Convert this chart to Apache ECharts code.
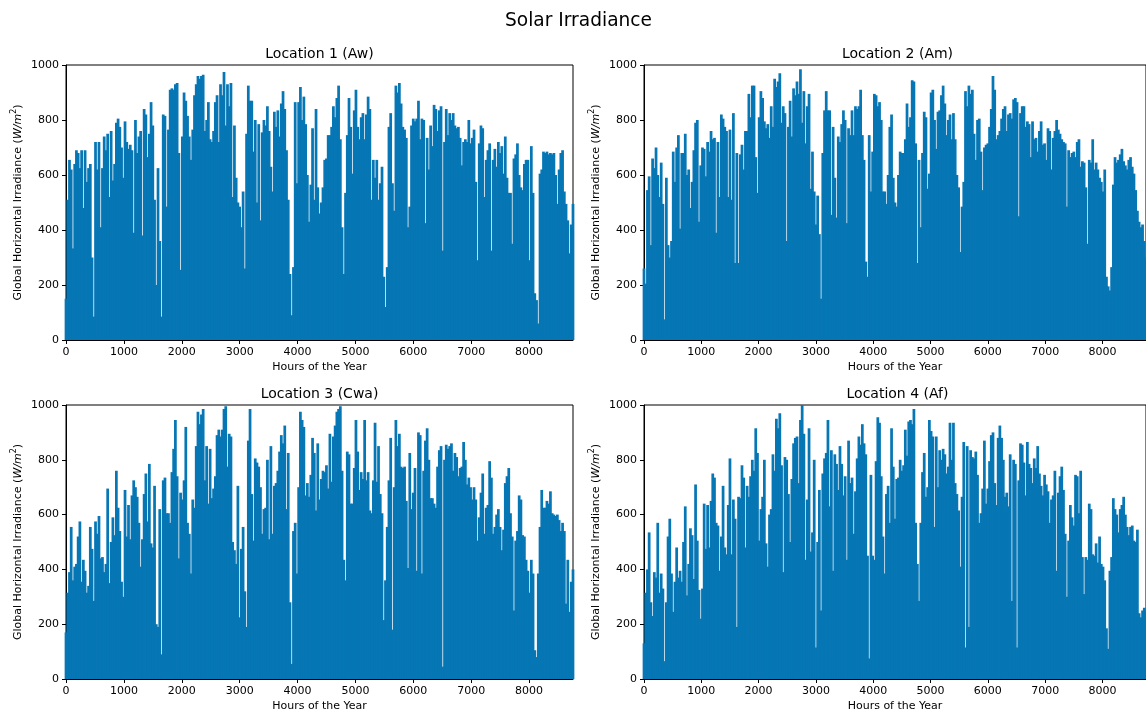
<!DOCTYPE html>
<html>
<head>
<meta charset="utf-8">
<title>Solar Irradiance</title>
<script src="https://cdn.jsdelivr.net/npm/echarts@6/dist/echarts.min.js"></script>
<style>
  html, body { margin: 0; padding: 0; background: #ffffff; }
  #chart { width: 1146px; height: 716px; }
</style>
</head>
<body>
<div id="chart"></div>
<script>
// Hours in the year and spacing of the sampled irradiance peaks (hours)
const HOURS = 8760;
const STEP = 30;

const locationNames = ['Location 1 (Aw)', 'Location 2 (Am)', 'Location 3 (Cwa)', 'Location 4 (Af)'];
const xTickStep = 1000;
const yTickStep = 200;
const yMax = 1000;

// Global horizontal irradiance peaks (W/m^2), one value every STEP hours (293 values each)
const loc1 = [
  150,510,655,620,333,640,690,680,625,690, 480,690,575,625,640,300,85,720,620,720,
  410,625,740,690,750,520,760,580,640,790, 805,775,700,590,795,720,695,710,690,390,
  800,680,740,760,380,840,820,665,750,865, 780,510,200,625,360,85,820,815,485,765,
  910,915,910,930,935,680,255,740,900,870, 815,740,655,765,890,930,960,950,960,965,
  760,800,865,730,720,760,865,890,720,930, 890,975,780,930,850,935,520,
  780,590,500,485,410,540,260,750,925,870, 870,685,800,500,785,435,755,800,780,850,
  760,630,540,830,775,835,740,860,905,840, 690,510,240,90,265,865,570,865,920,800,
  885,785,600,430,565,770,510,840,555,460, 500,555,655,660,745,745,775,850,810,880,
  925,730,410,240,535,745,880,775,605,835, 910,775,730,810,825,730,820,885,840,510,
  655,590,655,510,570,630,230,120,265,775, 825,570,470,925,900,935,860,775,
  765,735,410,485,780,805,795,805,870,730, 805,800,425,735,620,780,705,855,840,760,
  835,850,325,720,840,745,825,800,825,780, 770,775,735,635,720,730,720,800,715,735,
  765,575,290,715,780,770,520,655,690,715, 325,655,695,630,720,680,705,605,740,590,
  535,535,350,660,675,715,600,555,545,640, 655,655,290,705,535,170,145,60,605,620,
  685,680,685,675,680,675,680,600,495,620, 680,690,540,495,435,315,420,495
];

const loc2 = [
  260,205,545,595,345,660,625,700,600,520, 645,495,75,590,345,300,360,685,575,700,
  745,405,680,680,750,600,620,480,575,690, 790,800,430,635,700,695,595,720,685,760,
  730,735,390,720,520,820,805,775,760,520, 765,510,825,280,680,280,675,710,620,760,
  760,895,810,925,925,665,535,810,905,880, 795,770,785,735,850,775,950,920,940,970,
  790,850,825,360,775,870,740,915,890,940, 895,985,790,905,715,850,895,
  550,685,540,420,525,385,150,680,835,905, 835,835,455,775,590,445,740,720,785,835,
  800,425,770,745,835,745,850,840,850,910, 745,655,285,230,745,540,685,895,890,850,
  865,800,540,540,495,600,775,820,590,500, 485,600,685,680,680,730,860,775,810,945,
  940,715,280,655,410,680,830,810,550,605, 900,910,800,695,830,835,890,925,860,745,
  800,820,730,825,730,600,555,320,485,575, 905,850,925,895,910,
  750,655,800,805,685,545,700,710,715,775, 840,960,910,730,745,760,805,840,850,760,
  820,825,805,875,880,865,450,825,850,850, 775,795,785,665,795,730,735,685,760,795,
  710,715,655,770,760,620,735,760,800,765, 750,730,720,715,485,690,665,680,685,665,
  720,730,630,650,645,555,350,655,645,730, 620,645,620,590,575,540,620,230,195,180,
  265,565,665,645,655,675,695,650,635,620, 655,665,630,605,545,470,430,410,420,360,
  300
];

const loc3 = [
  170,315,390,555,360,410,420,520,575,355, 435,395,315,340,555,475,285,575,530,595,
  440,445,390,420,695,350,500,590,525,760, 625,540,355,300,690,520,635,510,670,725,
  700,665,570,410,510,675,750,575,785,495, 480,705,200,190,620,90,725,735,605,605,
  570,755,840,945,740,440,680,655,725,920, 570,530,385,655,625,850,975,930,965,985,
  725,850,640,840,660,695,740,890,910,885, 910,985,995,775,895,885,500,
  470,420,705,225,475,555,320,190,870,985, 675,505,805,790,775,700,530,620,625,800,
  510,850,530,705,715,760,830,890,860,925, 620,825,280,55,540,570,385,700,975,945,
  920,670,715,665,745,880,825,615,860,655, 730,760,755,780,695,895,720,885,925,975,
  985,995,760,435,360,830,820,640,640,770, 945,830,690,755,730,945,725,755,615,605,
  725,935,720,850,675,605,215,360,555,725, 880,180,700,945,850,895,775,770,
  775,650,405,825,620,680,770,395,900,890, 385,760,870,915,800,660,660,640,625,775,
  835,850,45,800,855,840,850,860,760,825, 810,740,770,775,865,800,710,735,700,655,
  700,655,505,590,680,750,530,625,635,795, 735,530,555,600,620,555,470,545,715,740,
  770,605,520,250,505,540,670,655,525,520, 435,395,315,435,385,105,80,385,555,690,
  625,625,650,640,685,605,600,595,600,580, 540,570,540,275,435,245,355,400
];

const loc4 = [
  130,315,400,535,280,230,390,370,570,315, 385,330,65,280,520,585,385,245,355,480,
  370,395,355,500,630,305,420,550,525,365, 710,505,325,220,330,640,475,635,480,650,
  750,735,570,560,395,520,705,480,455,635, 805,455,655,585,190,665,660,780,735,480,
  705,665,740,800,760,915,825,505,620,665, 800,495,410,600,620,820,760,950,915,970,
  780,390,810,800,675,500,730,860,880,885, 715,945,1000,895,435,655,915,
  465,535,800,115,500,690,250,750,805,825, 945,630,835,395,820,785,690,850,785,670,
  740,435,870,715,735,530,685,805,885,855, 930,860,820,450,75,745,450,435,795,955,
  935,740,520,385,675,705,570,915,775,585, 730,735,800,760,780,910,815,940,945,930,
  985,570,420,285,570,755,825,665,700,945, 905,885,555,885,700,835,800,840,820,750,
  775,935,800,935,715,675,615,410,665,865, 115,850,190,835,810,
  805,830,745,570,605,695,870,640,695,795, 890,900,715,635,880,925,880,800,665,680,
  630,820,285,800,785,115,725,860,855,790, 670,865,785,770,715,805,770,850,750,705,
  670,745,710,685,570,655,670,760,395,680, 740,775,690,530,300,505,635,590,560,745,
  740,605,760,445,310,445,435,640,620,455, 450,495,425,520,420,410,360,185,110,395,
  445,660,620,600,535,620,635,665,600,555, 525,555,560,505,500,545,240,225,
  250,260,250
];

const locations = [loc1, loc2, loc3, loc4];

const FONT = 'DejaVu Sans';
const BLUE = '#0676b4';

// Plot areas of the 2 x 2 panel layout
const panels = [
  { left: 66,  top: 65,  width: 507, height: 275 },
  { left: 644, top: 65,  width: 507, height: 275 },
  { left: 66,  top: 405, width: 507, height: 274 },
  { left: 644, top: 405, width: 507, height: 274 }
];

const toPoints = (vals) => vals.map((v, i) => [Math.min(i * STEP, HOURS), v]);

// each sample is drawn as a column over its STEP-hour slot, widened by 1px so
// neighbouring columns overlap and leave no anti-aliasing seams
const colWidth = (p) => p.width * STEP / HOURS + 1;

// title boxes carry 5px of padding, so the anchor is shifted back by that amount
const TITLE_PAD = 5;

const option = {
  animation: false,
  backgroundColor: '#ffffff',
  title: [
    {
      text: 'Solar Irradiance',
      left: 578.5 - TITLE_PAD, top: 7, textAlign: 'center',
      textStyle: { fontFamily: FONT, fontSize: 18.6, fontWeight: 'normal', color: '#000' }
    }
  ].concat(panels.map((p, k) => ({
    text: locationNames[k],
    left: p.left + p.width / 2 - TITLE_PAD, top: p.top - 23, textAlign: 'center',
    textStyle: { fontFamily: FONT, fontSize: 14, fontWeight: 'normal', color: '#000' }
  }))),
  grid: panels.map(p => ({
    left: p.left, top: p.top, width: p.width, height: p.height,
    show: true, borderColor: '#000', borderWidth: 1, backgroundColor: 'transparent',
    containLabel: false
  })),
  xAxis: panels.map((p, k) => ({
    gridIndex: k, type: 'value', min: 0, max: HOURS, interval: xTickStep,
    name: 'Hours of the Year', nameLocation: 'middle', nameGap: 22,
    nameTextStyle: { fontFamily: FONT, fontSize: 11, color: '#000' },
    axisLine: { show: true, onZero: false, lineStyle: { color: '#000', width: 1 } },
    axisTick: { show: true, length: 4, lineStyle: { color: '#000', width: 1 } },
    axisLabel: {
      fontFamily: FONT, fontSize: 11, color: '#000', margin: 7, showMaxLabel: false,
      formatter: v => (v % xTickStep === 0 ? String(v) : '')
    },
    splitLine: { show: false }
  })),
  yAxis: panels.map((p, k) => ({
    gridIndex: k, type: 'value', min: 0, max: yMax, interval: yTickStep,
    name: '{n|Global Horizontal Irradiance (}{i|W/m}{s|2}{n|)}',
    nameLocation: 'middle', nameGap: 42, nameRotate: 90,
    nameTextStyle: {
      fontFamily: FONT, fontSize: 11, color: '#000',
      rich: {
        n: { fontFamily: FONT, fontSize: 11, color: '#000', lineHeight: 14, verticalAlign: 'bottom' },
        i: { fontFamily: FONT, fontSize: 11, color: '#000', fontStyle: 'italic', lineHeight: 14, verticalAlign: 'bottom' },
        s: { fontFamily: FONT, fontSize: 8, color: '#000', lineHeight: 14, verticalAlign: 'top' }
      }
    },
    axisLine: { show: true, onZero: false, lineStyle: { color: '#000', width: 1 } },
    axisTick: { show: true, length: 4, lineStyle: { color: '#000', width: 1 } },
    axisLabel: { fontFamily: FONT, fontSize: 11, color: '#000', margin: 7, formatter: v => String(v) },
    splitLine: { show: false }
  })),
  series: locations.map((vals, k) => ({
    type: 'bar',
    name: locationNames[k],
    xAxisIndex: k, yAxisIndex: k,
    data: toPoints(vals),
    barWidth: colWidth(panels[k]),
    clip: true,
    large: false,
    itemStyle: { color: BLUE, borderWidth: 0 },
    emphasis: { disabled: true }
  }))
};

const chart = echarts.init(document.getElementById('chart'), null, { renderer: 'canvas' });
chart.setOption(option);
</script>
</body>
</html>
